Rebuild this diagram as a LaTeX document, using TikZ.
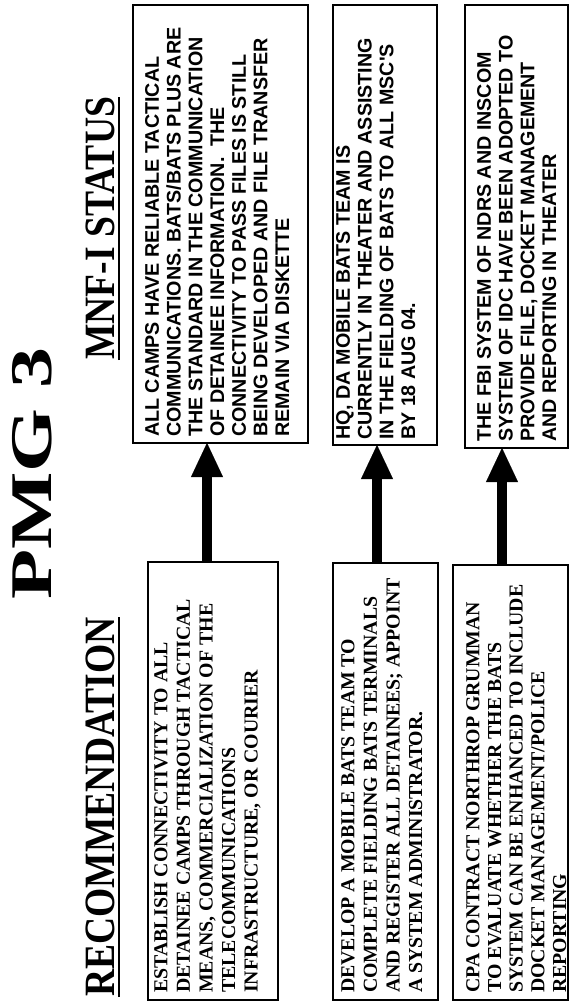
\documentclass[tikz,border=0pt]{standalone}
\usepackage{fontspec}
\setmainfont{Liberation Serif}
\newfontfamily\arialfont{Liberation Sans}
\usetikzlibrary{arrows.meta}
\begin{document}
\begin{tikzpicture}[x=1pt,y=1pt,
  box/.style={draw=black, line width=1.2pt, inner sep=0pt, outer sep=0pt, anchor=north west},
  serifbody/.style={font=\bfseries\fontsize{19.8}{22.6}\selectfont, align=left, rotate=90, anchor=north west, inner sep=0pt},
  sansbody/.style={font=\arialfont\bfseries\fontsize{19.7}{21.7}\selectfont, align=left, rotate=90, anchor=north west, inner sep=0pt},
  heading/.style={font=\bfseries\fontsize{37.6}{40}\selectfont, rotate=90, yscale=1.15, anchor=south west, inner sep=0pt},
  titlestyle/.style={font=\bfseries\fontsize{82}{84}\selectfont, rotate=90, yscale=0.72, anchor=south west, inner sep=0pt},
  bigarrow/.style={line width=10pt, -{Triangle[width=32pt,length=34pt,line width=0.1pt]}},
  uline/.style={line width=2.5pt}
]
\fill[white] (0,0) rectangle (570,-1003);
\useasboundingbox (0,0) rectangle (570,-1003);

% title and headings
\node[titlestyle] (title) at (52,-600) {PMG 3};
\node[heading] (rec) at (115,-997) {RECOMMENDATION};
\node[heading] (mnf) at (115,-360) {MNF-I STATUS};
\draw[uline] ([xshift=4pt]rec.south west) -- ([xshift=4pt]rec.south east);
\draw[uline] ([xshift=4pt]mnf.south west) -- ([xshift=4pt]mnf.south east);

% boxes
\node[box, minimum width=130pt, minimum height=438pt] (lb1) at (148,-562) {};
\node[box, minimum width=105pt, minimum height=437pt] (lb2) at (333,-563) {};
\node[box, minimum width=115pt, minimum height=435pt] (lb3) at (453,-565) {};
\node[box, minimum width=175pt, minimum height=438pt] (rb1) at (133,-5) {};
\node[box, minimum width=104pt, minimum height=440pt] (rb2) at (333,-5) {};
\node[box, minimum width=103pt, minimum height=443pt] (rb3) at (465,-5) {};

% texts
\node[serifbody] (lt1) at (154,-993) {ESTABLISH CONNECTIVITY TO ALL\\DETAINEE CAMPS THROUGH TACTICAL\\MEANS, COMMERCIALIZATION OF THE\\TELECOMMUNICATIONS\\INFRASTRUCTURE, OR COURIER};
\node[serifbody] (lt2) at (341,-993) {DEVELOP A MOBILE BATS TEAM TO\\COMPLETE FIELDING BATS TERMINALS\\AND REGISTER ALL DETAINEES; APPOINT\\A SYSTEM ADMINISTRATOR.};
\node[serifbody, font=\bfseries\fontsize{19.8}{21.7}\selectfont] (lt3) at (466,-993) {CPA CONTRACT NORTHROP GRUMMAN\\TO EVALUATE WHETHER THE BATS\\SYSTEM CAN BE ENHANCED TO INCLUDE\\DOCKET MANAGEMENT/POLICE\\REPORTING};
\node[sansbody] (rt1) at (145,-437) {ALL CAMPS HAVE RELIABLE TACTICAL\\COMMUNICATIONS. BATS/BATS PLUS ARE\\THE STANDARD IN THE COMMUNICATION\\OF DETAINEE INFORMATION.\ \ THE\\CONNECTIVITY TO PASS FILES IS STILL\\BEING DEVELOPED AND FILE TRANSFER\\REMAIN VIA DISKETTE};
\node[sansbody] (rt2) at (336,-440) {HQ, DA MOBILE BATS TEAM IS\\CURRENTLY IN THEATER AND ASSISTING\\IN THE FIELDING OF BATS TO ALL MSC'S\\BY 18 AUG 04.};
\node[sansbody] (rt3) at (477,-442) {THE FBI SYSTEM OF NDRS AND INSCOM\\SYSTEM OF IDC HAVE BEEN ADOPTED TO\\PROVIDE FILE, DOCKET MANAGEMENT\\AND REPORTING IN THEATER};

% arrows
\coordinate (ax1) at (207,0);
\coordinate (ax2) at (377,0);
\coordinate (ax3) at (502,0);
\draw[bigarrow] (lb1.north -| ax1) -- (rb1.south -| ax1);
\draw[bigarrow] (lb2.north -| ax2) -- (rb2.south -| ax2);
\draw[bigarrow] (lb3.north -| ax3) -- (rb3.south -| ax3);
\end{tikzpicture}
\end{document}
